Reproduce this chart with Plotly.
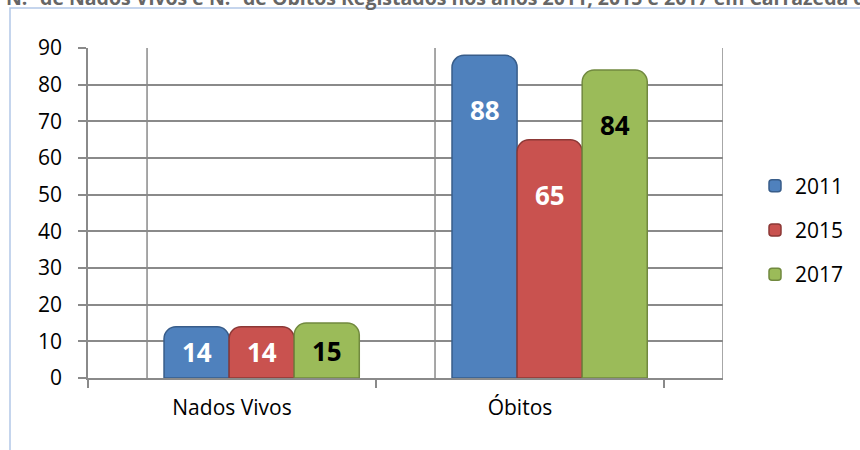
import plotly.graph_objects as go

categories = ["Nados Vivos", "Óbitos"]
years = ["2011", "2015", "2017"]
values_2011 = [14, 88]
values_2015 = [14, 65]
values_2017 = [15, 84]
series = [values_2011, values_2015, values_2017]
y_ticks = list(range(0, 100, 10))
title_text = "N.º de Nados Vivos e N.º de Óbitos Registados nos anos 2011, 2015 e 2017 em Carrazeda de Ansiães"

colors = ["#4f81bd", "#c9524f", "#9bbb59"]
edge_colors = ["#385d8a", "#8c3836", "#71893f"]
label_colors = ["white", "white", "black"]

W, H = 860, 450
L, R, T, B = 88, 137, 48, 72
pw, ph = W - L - R, H - T - B
FONT = "Open Sans"

bar_w = 0.226
group_shift = 0.103
depth = 0.205
xmax = 1.5 + depth
offsets = [group_shift - 1.5 * bar_w + k * bar_w for k in range(3)]

fig = go.Figure()
for k, (yr, vals) in enumerate(zip(years, series)):
    fig.add_trace(go.Bar(
        x=categories, y=vals, name=yr,
        width=bar_w, offset=offsets[k],
        marker=dict(color=colors[k], line=dict(color=edge_colors[k], width=1.5),
                    cornerradius=12),
        legendgroup=yr, hoverinfo="skip",
    ))

px_per_unit = ph / (y_ticks[-1] - y_ticks[0])
annotations = []
for k, vals in enumerate(series):
    for i, v in enumerate(vals):
        shift = min(55, v * px_per_unit / 2)
        annotations.append(dict(
            x=i + offsets[k] + bar_w / 2, y=v, xref="x", yref="y",
            text=f"<b>{v}</b>", showarrow=False, yshift=-shift,
            font=dict(family=FONT, size=26, color=label_colors[k]),
        ))

annotations.append(dict(
    xref="paper", yref="paper", x=(4 - L) / pw, y=(H - B + 3) / ph,
    xanchor="left", yanchor="middle", text=f"<b>{title_text}</b>",
    showarrow=False, font=dict(family=FONT, size=19.5, color="#666666"),
))

shapes = []
for b in [-0.5, 0.5, 1.5]:
    shapes.append(dict(type="line", xref="x", yref="y", x0=b + depth, x1=b + depth,
                       y0=y_ticks[0], y1=y_ticks[-1], line=dict(color="#8a8a8a", width=1.5),
                       layer="below"))
# outer frame
shapes.append(dict(type="rect", xref="paper", yref="paper",
                   x0=(10 - L) / pw, x1=(W + 20 - L) / pw,
                   y0=(H - B - (H + 20)) / ph, y1=(H - B - 8) / ph,
                   line=dict(color="#b3c8e8", width=1.5), layer="below"))

fig.update_layout(
    width=W, height=H,
    margin=dict(l=L, r=R, t=T, b=B, autoexpand=False),
    paper_bgcolor="white", plot_bgcolor="white",
    barmode="group",
    font=dict(family=FONT, size=21, color="black"),
    xaxis=dict(type="category", range=[-0.5, xmax], tickson="boundaries",
               automargin=False,
               showgrid=False, showline=True, linecolor="#8a8a8a", linewidth=1.5,
               ticks="outside", ticklen=8, tickcolor="#8a8a8a", tickwidth=1.5,
               ticklabelstandoff=10, tickfont=dict(size=21)),
    yaxis=dict(range=[y_ticks[0], y_ticks[-1]], tickvals=y_ticks,
               automargin=False,
               showgrid=True, gridcolor="#8a8a8a", gridwidth=1.5,
               showline=True, linecolor="#8a8a8a", linewidth=1.5,
               ticks="outside", ticklen=8, tickcolor="#8a8a8a", tickwidth=1.5,
               ticklabelstandoff=12, zeroline=False, tickfont=dict(size=21)),
    legend=dict(x=(755 - L) / pw, xanchor="left", y=(H - B - 230) / ph, yanchor="middle",
                traceorder="grouped", tracegroupgap=14, font=dict(size=21),
                bgcolor="rgba(0,0,0,0)"),
    annotations=annotations, shapes=shapes,
    showlegend=True,
)

fig.write_html("out.html", config={"displayModeBar": False},
               post_script="document.body.style.margin='0';document.body.style.overflow='hidden';")
